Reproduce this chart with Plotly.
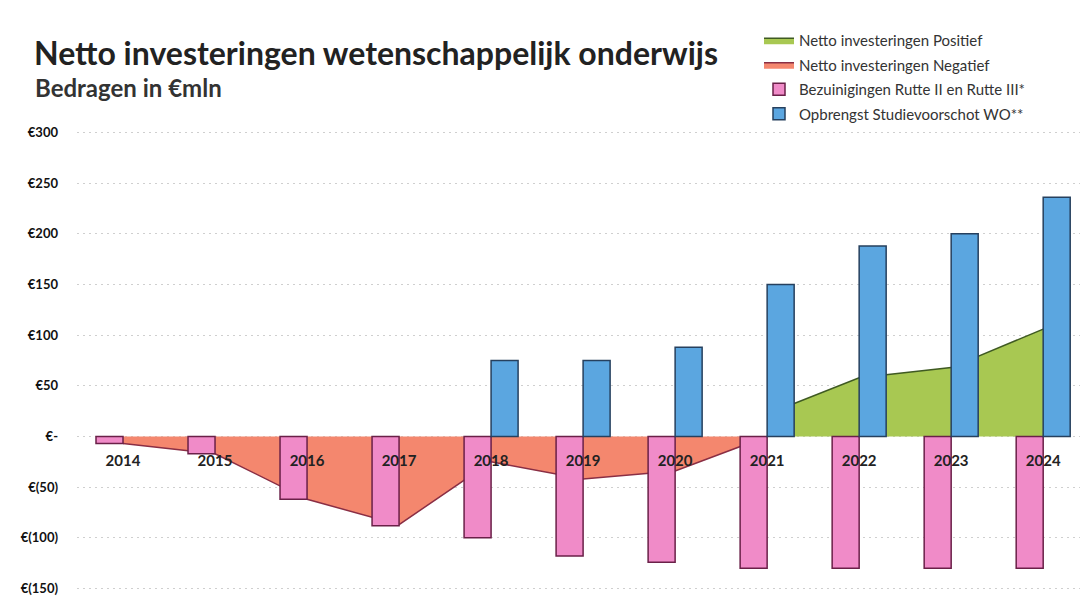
import plotly.graph_objects as go

years = ["2014", "2015", "2016", "2017", "2018", "2019", "2020", "2021", "2022", "2023", "2024"]
netto_positief = [None, None, None, None, None, None, None, 22, 58, 68, 106]
netto_negatief = [-7, -17, -62, -87, -25, -42, -34, 0, None, None, None]
bezuinigingen = [-7, -17, -62, -88, -100, -118, -124, -130, -130, -130, -130]
studievoorschot = [None, None, None, None, 75, 75, 88, 150, 188, 200, 236]

tick_vals = [-150, -100, -50, 0, 50, 100, 150, 200, 250, 300]
tick_text = ["€(150)", "€(100)", "€(50)", "€-", "€50", "€100", "€150", "€200", "€250", "€300"]

names = [
    "Netto investeringen Positief",
    "Netto investeringen Negatief",
    "Bezuinigingen Rutte II en Rutte III*",
    "Opbrengst Studievoorschot WO**",
]

FONT = "Lato"
xrange = [-0.5, 10.4]
yrange = [-151.5, 301.5]

fig = go.Figure()

# Areas on the base axes (drawn below the bars)
fig.add_trace(go.Scatter(
    x=years, y=netto_positief, name=names[0], mode="lines",
    fill="tozeroy", fillcolor="#A8C852",
    line=dict(color="#3F5A22", width=1.5),
    xaxis="x", yaxis="y", legendgroup="g1",
))
fig.add_trace(go.Scatter(
    x=years, y=netto_negatief, name=names[1], mode="lines",
    fill="tozeroy", fillcolor="#F4876E",
    line=dict(color="#8A2E44", width=1.5),
    xaxis="x", yaxis="y", legendgroup="g2",
))

# Bars on overlaying axes (drawn above the areas)
fig.add_trace(go.Bar(
    x=years, y=bezuinigingen, name=names[2],
    marker=dict(color="#F08BC8", line=dict(color="#6A2048", width=1.5)),
    xaxis="x2", yaxis="y2", legendgroup="g3",
))
fig.add_trace(go.Bar(
    x=years, y=studievoorschot, name=names[3],
    marker=dict(color="#5BA6E0", line=dict(color="#26405E", width=1.5)),
    xaxis="x2", yaxis="y2", legendgroup="g4",
))

fig.update_layout(
    width=1081, height=607,
    margin=dict(l=77, r=1, t=131, b=17, autoexpand=False),
    paper_bgcolor="white", plot_bgcolor="white",
    barmode="group", bargap=0.413, bargroupgap=0,
    font=dict(family=FONT, color="#222"),
    title=dict(
        text="<b>Netto investeringen wetenschappelijk onderwijs</b>",
        x=34 / 1081, xanchor="left", xref="container",
        y=1 - 54 / 607, yanchor="middle", yref="container",
        font=dict(family=FONT, size=32, color="#222"),
    ),
    showlegend=True,
    legend=dict(
        x=759 / 1081, xanchor="left", xref="container",
        y=1 - 24 / 607, yanchor="top", yref="container",
        font=dict(family=FONT, size=15, color="#333"),
        bgcolor="rgba(0,0,0,0)", tracegroupgap=2,
        itemwidth=30,
    ),
    xaxis=dict(
        type="category", categoryorder="array", categoryarray=years,
        range=xrange, anchor="free",
        position=(0 - yrange[0]) / (yrange[1] - yrange[0]),
        showgrid=False, zeroline=False, showline=False,
        ticks="", ticklabelstandoff=14,
        tickfont=dict(family=FONT, size=15, color="#222", weight="bold"),
    ),
    yaxis=dict(
        range=yrange, tickvals=tick_vals, ticktext=tick_text,
        showgrid=True, gridcolor="#CFCFCF", griddash="2px,4px", gridwidth=1.2,
        zeroline=False, showline=False, ticks="", ticklabelstandoff=18,
        tickfont=dict(family=FONT, size=13, color="#111", weight="bold"),
    ),
    xaxis2=dict(
        type="category", categoryorder="array", categoryarray=years,
        range=xrange, overlaying="x", anchor="y2", visible=False,
    ),
    yaxis2=dict(
        range=yrange, overlaying="y", anchor="x2", visible=False,
        showgrid=False, zeroline=False,
    ),
    annotations=[dict(
        text="<b>Bedragen in €mln</b>", xref="paper", yref="paper",
        x=(33 - 77) / 1003, y=(590 - 87) / 459, xanchor="left", yanchor="middle",
        showarrow=False, font=dict(family=FONT, size=24, color="#333"),
    )],
)

fig.write_html(
    "out.html",
    config={"displayModeBar": False},
    post_script="document.body.style.margin='0';",
)
